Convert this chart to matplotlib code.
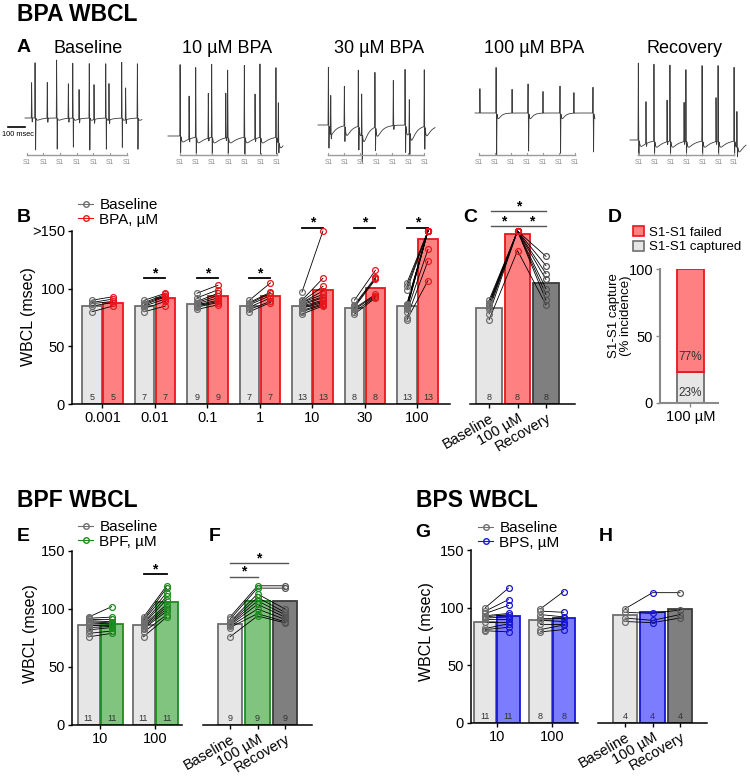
import numpy as np
import matplotlib
matplotlib.use('Agg')
import matplotlib.pyplot as plt
from matplotlib.lines import Line2D
from matplotlib.patches import Patch

plt.rcParams['font.family'] = ['Liberation Sans', 'DejaVu Sans']

# ---------------- data ----------------
# panel A: example traces (times in ms, amplitudes in trace units)
trace_titles = ['Baseline', '10 µM BPA', '30 µM BPA', '100 µM BPA', 'Recovery']

base_t = [39, 59, 131, 186, 255, 281, 318, 378, 406, 475, 494, 569, 592, 661]
base_up = [36, 57, 37, 58, 35, 55, 30, 56, 35, 55, 37, 56, 32, 55]
base_dn = [4, 32, 4, 32, 4, 30, 4, 32, 4, 32, 4, 30, 4, 32]
base_s1 = [10, 108, 206, 304, 402, 500, 598]

bpa10_t = [71, 124, 163, 237, 257, 340, 351, 449, 512, 541, 635, 649]
bpa10_up = [73, 44, 72, 46, 74, 46, 68, 72, 46, 74, 72, 40]
bpa10_dn = [17, 3, 17, 3, 17, 3, 17, 17, 3, 17, 17, 10]
bpa10_s1 = [70, 165, 260, 355, 450, 545, 640]

bpa30_t = [61, 75, 155, 237, 257, 335, 443, 512, 537, 625]
bpa30_up = [58, 40, 40, 58, 42, 56, 46, 56, 35, 58]
bpa30_dn = [24, 4, 16, 24, 28, 24, 4, 28, 22, 23]
bpa30_s1 = [61, 155, 249, 343, 437, 531, 625]

bpa100_t = [29, 124, 218, 312, 400, 500, 582, 694]
bpa100_up = [25, 46, 24, 30, 22, 27, 21, 26]
bpa100_dn = [0, 42, 0, 39, 0, 41, 0, 40]
bpa100_s1 = [24, 118, 212, 306, 400, 494, 588]

rec_t = [49, 94, 141, 218, 235, 318, 329, 424, 506, 518, 612, 629]
rec_up = [77, 43, 77, 42, 78, 40, 73, 77, 44, 76, 76, 36]
rec_dn = [15, 3, 15, 3, 15, 3, 15, 15, 3, 15, 15, 10]
rec_s1 = [49, 143, 237, 331, 425, 519, 612]

# panel B
b_doses = ['0.001', '0.01', '0.1', '1', '10', '30', '100']
b_base_mean = [85, 85, 87, 85, 85, 83, 85]
b_bpa_mean = [88, 92, 94, 94, 99, 101, 143]
b_n = [5, 7, 9, 7, 13, 8, 13]
b_sig_y = [None, 109, 109, 109, 153, 153, 153]
b_base_pts = [
    [80, 85, 87, 88, 90],
    [80, 83, 85, 86, 87, 88, 90],
    [82, 84, 85, 86, 87, 88, 89, 92, 96],
    [80, 82, 84, 86, 87, 88, 90],
    [78, 80, 81, 83, 84, 85, 86, 87, 88, 88, 89, 90, 97],
    [78, 80, 82, 83, 84, 85, 86, 90],
    [73, 75, 80, 82, 83, 84, 85, 86, 86, 87, 99, 102, 105],
]
b_bpa_pts = [
    [85, 88, 89, 91, 93],
    [85, 89, 91, 93, 94, 95, 96],
    [86, 88, 89, 90, 92, 94, 96, 99, 103],
    [88, 89, 92, 94, 96, 97, 105],
    [85, 86, 87, 88, 89, 90, 92, 93, 95, 98, 102, 109, 150],
    [92, 93, 94, 95, 108, 109, 110, 116],
    [107, 124, 134, 150, 150, 150, 150, 150, 150, 150, 150, 150, 150],
]

# panel C
c_labels = ['Baseline', '100 µM', 'Recovery']
c_mean = [83, 147, 105]
c_n = [8, 8, 8]
c_base_pts = [73, 78, 82, 84, 86, 87, 88, 90]
c_bpa_pts = [133, 150, 150, 150, 150, 150, 150, 150]
c_rec_pts = [86, 90, 95, 100, 108, 113, 120, 128]

# panel D
d_label = '100 µM'
d_captured = 23
d_failed = 77

# panel E
e_doses = ['10', '100']
e_base_mean = [86, 86]
e_bpf_mean = [87, 106]
e_n = [11, 11]
e_sig_y = [None, 130]
e_base_pts = [[76, 79, 82, 84, 86, 88, 89, 90, 91, 92, 93],
              [76, 80, 83, 84, 85, 86, 87, 88, 90, 91, 93]]
e_bpf_pts = [[79, 81, 84, 85, 86, 87, 88, 89, 91, 93, 102],
             [93, 95, 98, 100, 102, 104, 108, 111, 114, 118, 120]]

# panel F
f_labels = ['Baseline', '100 µM', 'Recovery']
f_mean = [87, 107, 107]
f_n = [9, 9, 9]
f_base_pts = [76, 84, 85, 86, 87, 88, 89, 91, 93]
f_bpf_pts = [94, 96, 100, 104, 107, 110, 113, 118, 120]
f_rec_pts = [88, 89, 91, 93, 95, 97, 100, 118, 120]

# panel G
g_doses = ['10', '100']
g_base_mean = [88, 89]
g_bps_mean = [93, 91]
g_n = [11, 8]
g_base_pts = [[80, 81, 82, 88, 90, 91, 92, 93, 95, 97, 100],
              [79, 81, 86, 89, 91, 94, 97, 99]]
g_bps_pts = [[79, 83, 86, 88, 90, 92, 94, 95, 102, 107, 117],
             [81, 85, 86, 88, 91, 92, 96, 114]]

# panel H
h_labels = ['Baseline', '100 µM', 'Recovery']
h_mean = [94, 96, 99]
h_n = [4, 4, 4]
h_base_pts = [88, 91, 96, 99]
h_bps_pts = [87, 89, 95, 113]
h_rec_pts = [91, 94, 98, 113]

# ---------------- style ----------------
GRAY_F, GRAY_E = '#E6E6E6', '#6E6E6E'
RED_F, RED_E = '#FF8080', '#E8161B'
GRN_F, GRN_E = '#80C480', '#1E8C1E'
BLU_F, BLU_E = '#7C7CFF', '#1616D6'
DRK_F, DRK_E = '#7F7F7F', '#3C3C3C'

W, H = 750, 777
fig = plt.figure(figsize=(7.5, 7.77), dpi=100)


def box(x0, y0, x1, y1):
    return [x0 / W, 1 - y1 / H, (x1 - x0) / W, (y1 - y0) / H]


def ftext(x, y, s, **kw):
    fig.text(x / W, 1 - y / H, s, **kw)


MS = 100 / 17.0  # ms per pixel


def ecg(T, spk_t, spk_up, spk_dn, dip, tau):
    t = np.linspace(0, T, 5000)
    y = np.zeros_like(t)
    for t0, up, dn in zip(spk_t, spk_up, spk_dn):
        y += up * np.clip(1 - np.abs(t - t0) / 2.0, 0, None)
        y -= dn * np.clip(1 - np.abs(t - t0 - 3.5) / 2.0, 0, None)
        if dn >= 10:
            m = t > t0 + 5
            dt = t[m] - t0 - 5
            y[m] -= dip * (1 - np.exp(-dt / 6)) * np.exp(-dt / tau)
    return t, y


traces = [
    (25, 118, 117, base_t, base_up, base_dn, base_s1, 4, 25),
    (168, 136, 115, bpa10_t, bpa10_up, bpa10_dn, bpa10_s1, 9, 45),
    (318, 125, 117, bpa30_t, bpa30_up, bpa30_dn, bpa30_s1, 17, 30),
    (475, 113, 120, bpa100_t, bpa100_up, bpa100_dn, bpa100_s1, 12, 18),
    (630, 140, 116, rec_t, rec_up, rec_dn, rec_s1, 10, 40),
]
title_x = [88, 227, 379, 534, 685]

for k, (x0, yb, wpx, st, su, sd, s1, dip, tau) in enumerate(traces):
    ax = fig.add_axes(box(x0 - 20, 50, x0 + 125, 172))
    ax.set_xlim(-20 * MS, 125 * MS)
    ax.set_ylim(yb - 172, yb - 50)
    ax.axis('off')
    t, y = ecg(wpx * MS, st, su, sd, dip, tau)
    ax.plot(t, y, color='#3A3A3A', lw=0.6)
    ys = yb - 155
    ax.plot([s1[0], s1[-1]], [ys, ys], color='#9A9A9A', lw=1.0)
    for s in s1:
        ax.plot([s, s], [ys, ys + 2.5], color='#9A9A9A', lw=0.8)
        ax.text(s, yb - 162, 'S1', fontsize=4.8, color='#8A8A8A',
                ha='center', va='center')
    if k == 0:
        ax.plot([-17 * MS, 0], [yb - 127, yb - 127], color='k', lw=1.2)
        ax.text(-7 * MS, yb - 134, '100 msec', fontsize=5.3,
                ha='center', va='center')
    ftext(title_x[k], 53, trace_titles[k], fontsize=13, ha='center',
          va='baseline')


def paired(ax, xs, groups, colors):
    for i in range(len(groups[0])):
        ax.plot(xs, [g[i] for g in groups], color='k', lw=0.6, zorder=3,
                clip_on=False)
    for x, g, c in zip(xs, groups, colors):
        ax.plot([x] * len(g), g, 'o', ms=4.2, mfc='none', mec=c, mew=0.9,
                zorder=4, clip_on=False)


def bar(ax, x, h, w, fc, ec, n=None):
    ax.bar(x, h, w, color=fc, edgecolor=ec, linewidth=1.3, zorder=2)
    if n is not None:
        ax.text(x, 6, str(n), fontsize=6.5, color='#333333', ha='center',
                va='center', zorder=5)


def sig(ax, x1, x2, y, color='k', lw=1.3):
    ax.plot([x1, x2], [y, y], color=color, lw=lw, clip_on=False)
    ax.text((x1 + x2) / 2, y + 0.5, '*', fontsize=10, fontweight='bold',
            ha='center', va='baseline')


def style(ax, left=True, spine_color='k'):
    ax.spines['top'].set_visible(False)
    ax.spines['right'].set_visible(False)
    for s in ['left', 'bottom']:
        ax.spines[s].set_color(spine_color)
        ax.spines[s].set_linewidth(1.1)
    if not left:
        ax.spines['left'].set_visible(False)
        ax.tick_params(left=False, labelleft=False)
    ax.tick_params(direction='out', length=3, width=1, labelsize=10.5,
                   pad=2)
    ax.set_facecolor('none')


def leg_handles(c2):
    return [Line2D([], [], color=GRAY_E, lw=0.8, marker='o', ms=4,
                   mfc='none', mec=GRAY_E),
            Line2D([], [], color=c2, lw=0.8, marker='o', ms=4,
                   mfc='none', mec=c2)]


def legend(handles, labels, x, y, fs=11):
    fig.legend(handles, labels, loc='upper left',
               bbox_to_anchor=(x / W, 1 - y / H), frameon=False,
               fontsize=fs, handlelength=1.0, handletextpad=0.4,
               labelspacing=0.05, borderpad=0, borderaxespad=0)


# ---------------- titles / letters ----------------
ftext(17, 21, 'BPA WBCL', fontsize=16.5, fontweight='bold', va='baseline')
ftext(17, 507, 'BPF WBCL', fontsize=16.5, fontweight='bold', va='baseline')
ftext(416, 507, 'BPS WBCL', fontsize=16.5, fontweight='bold', va='baseline')
for s, x, y in [('A', 17, 52), ('B', 17, 222), ('C', 463, 222),
                ('D', 608, 222), ('E', 17, 541), ('F', 209, 541),
                ('G', 415, 537), ('H', 599, 541)]:
    ftext(x, y, s, fontsize=14, fontweight='bold', va='baseline')

# ---------------- panel B ----------------
ax = fig.add_axes(box(72, 231, 450, 404))
style(ax)
ax.set_ylim(0, 150)
ax.set_xlim(-0.58, 6.62)
for i in range(len(b_doses)):
    bar(ax, i - 0.2, b_base_mean[i], 0.37, GRAY_F, GRAY_E, b_n[i])
    bar(ax, i + 0.2, b_bpa_mean[i], 0.37, RED_F, RED_E, b_n[i])
    paired(ax, [i - 0.2, i + 0.2], [b_base_pts[i], b_bpa_pts[i]],
           [GRAY_E, RED_E])
    if b_sig_y[i] is not None:
        sig(ax, i - 0.2, i + 0.2, b_sig_y[i])
ax.set_xticks(range(len(b_doses)))
ax.set_xticklabels(b_doses)
ax.set_yticks([0, 50, 100, 150])
ax.set_yticklabels(['0', '50', '100', '>150'], fontsize=10.5)
ftext(28, 317, 'WBCL (msec)', fontsize=11.5, rotation=90, ha='center',
      va='center')
legend(leg_handles(RED_E), ['Baseline', 'BPA, µM'], 78, 198)

# ---------------- panel C ----------------
ax = fig.add_axes(box(470, 231, 575, 404))
style(ax, left=False)
ax.set_ylim(0, 150)
ax.set_xlim(-0.67, 3.02)
for i, (m, fc, ec) in enumerate(zip(c_mean, [GRAY_F, RED_F, DRK_F],
                                    [GRAY_E, RED_E, DRK_E])):
    bar(ax, i, m, 0.9, fc, ec, c_n[i])
paired(ax, [0, 1, 2], [c_base_pts, c_bpa_pts, c_rec_pts],
       [GRAY_E, RED_E, '#555555'])
sig(ax, 0.07, 0.97, 154, color='#555555', lw=1.0)
sig(ax, 1.03, 2.0, 154, color='#555555', lw=1.0)
sig(ax, 0.07, 2.0, 167, color='#555555', lw=1.0)
ax.set_xticks([0, 1, 2])
ax.set_xticklabels(c_labels, rotation=30, ha='right', va='top',
                   rotation_mode='anchor', fontsize=10.5)

# ---------------- panel D ----------------
ax = fig.add_axes(box(660, 269, 718, 403))
style(ax, spine_color='#8A8A8A')
ax.spines['left'].set_linewidth(1.5)
ax.spines['bottom'].set_linewidth(1.5)
ax.tick_params(colors='#8A8A8A', labelcolor='k')
ax.set_xlim(-1.13, 1.02)
ax.set_ylim(0, 100)
ax.bar(0, d_captured, 1, color=GRAY_F, edgecolor=GRAY_E, linewidth=1.3)
ax.bar(0, d_failed, 1, bottom=d_captured, color=RED_F, edgecolor=RED_E,
       linewidth=1.3)
ax.text(0, 7.5, f'{d_captured}%', fontsize=8.5, ha='center', va='center',
        color='#333333')
ax.text(0, 34, f'{d_failed}%', fontsize=8.5, ha='center', va='center',
        color='#333333')
ax.set_yticks([0, 50, 100])
ax.set_xticks([0])
ax.set_xticklabels([d_label])
ftext(620, 316, 'S1-S1 capture\n(% incidence)', fontsize=9.5, rotation=90,
      ha='center', va='center', multialignment='center', linespacing=1.05)
fig.legend([Patch(facecolor=RED_F, edgecolor=RED_E, linewidth=1.2),
            Patch(facecolor=GRAY_F, edgecolor=GRAY_E, linewidth=1.2)],
           ['S1-S1 failed', 'S1-S1 captured'], loc='upper left',
           bbox_to_anchor=(633 / W, 1 - 226 / H), frameon=False,
           fontsize=9.5, handlelength=0.8, handleheight=0.8,
           handletextpad=0.4, labelspacing=0.15, borderpad=0,
           borderaxespad=0)

# ---------------- panel E ----------------
ax = fig.add_axes(box(72, 551, 182, 725))
style(ax)
ax.set_ylim(0, 150)
ax.set_xlim(-0.51, 1.49)
for i in range(len(e_doses)):
    bar(ax, i - 0.21, e_base_mean[i], 0.4, GRAY_F, GRAY_E, e_n[i])
    bar(ax, i + 0.21, e_bpf_mean[i], 0.4, GRN_F, GRN_E, e_n[i])
    paired(ax, [i - 0.21, i + 0.21], [e_base_pts[i], e_bpf_pts[i]],
           [GRAY_E, GRN_E])
    if e_sig_y[i] is not None:
        sig(ax, i - 0.21, i + 0.21, e_sig_y[i])
ax.set_xticks(range(len(e_doses)))
ax.set_xticklabels(e_doses)
ax.set_yticks([0, 50, 100, 150])
ftext(31, 634, 'WBCL (msec)', fontsize=11.5, rotation=90, ha='center',
      va='center')
legend(leg_handles(GRN_E), ['Baseline', 'BPF, µM'], 78, 520)

# ---------------- panel F ----------------
ax = fig.add_axes(box(203, 551, 312, 725))
style(ax, left=False)
ax.set_ylim(0, 150)
ax.set_xlim(-0.98, 2.98)
for i, (m, fc, ec) in enumerate(zip(f_mean, [GRAY_F, GRN_F, DRK_F],
                                    [GRAY_E, GRN_E, DRK_E])):
    bar(ax, i, m, 0.88, fc, ec, f_n[i])
paired(ax, [0, 1, 2], [f_base_pts, f_bpf_pts, f_rec_pts],
       [GRAY_E, GRN_E, '#555555'])
sig(ax, 0, 1, 128, color='#555555', lw=1.0)
sig(ax, 0, 2.1, 140, color='#555555', lw=1.0)
ax.set_xticks([0, 1, 2])
ax.set_xticklabels(f_labels, rotation=30, ha='right', va='top',
                   rotation_mode='anchor', fontsize=10.5)

# ---------------- panel G ----------------
ax = fig.add_axes(box(471, 550, 578, 723))
style(ax)
ax.set_ylim(0, 150)
ax.set_xlim(-0.47, 1.47)
for i in range(len(g_doses)):
    bar(ax, i - 0.21, g_base_mean[i], 0.4, GRAY_F, GRAY_E, g_n[i])
    bar(ax, i + 0.21, g_bps_mean[i], 0.4, BLU_F, BLU_E, g_n[i])
    paired(ax, [i - 0.21, i + 0.21], [g_base_pts[i], g_bps_pts[i]],
           [GRAY_E, BLU_E])
ax.set_xticks(range(len(g_doses)))
ax.set_xticklabels(g_doses)
ax.set_yticks([0, 50, 100, 150])
ftext(427, 632, 'WBCL (msec)', fontsize=11.5, rotation=90, ha='center',
      va='center')
legend(leg_handles(BLU_E), ['Baseline', 'BPS, µM'], 478, 521)

# ---------------- panel H ----------------
ax = fig.add_axes(box(598, 550, 707, 723))
style(ax, left=False)
ax.set_ylim(0, 150)
ax.set_xlim(-0.98, 2.98)
for i, (m, fc, ec) in enumerate(zip(h_mean, [GRAY_F, BLU_F, DRK_F],
                                    [GRAY_E, BLU_E, DRK_E])):
    bar(ax, i, m, 0.88, fc, ec, h_n[i])
paired(ax, [0, 1, 2], [h_base_pts, h_bps_pts, h_rec_pts],
       [GRAY_E, BLU_E, '#555555'])
ax.set_xticks([0, 1, 2])
ax.set_xticklabels(h_labels, rotation=30, ha='right', va='top',
                   rotation_mode='anchor', fontsize=10.5)

fig.savefig('out.png', dpi=100)
